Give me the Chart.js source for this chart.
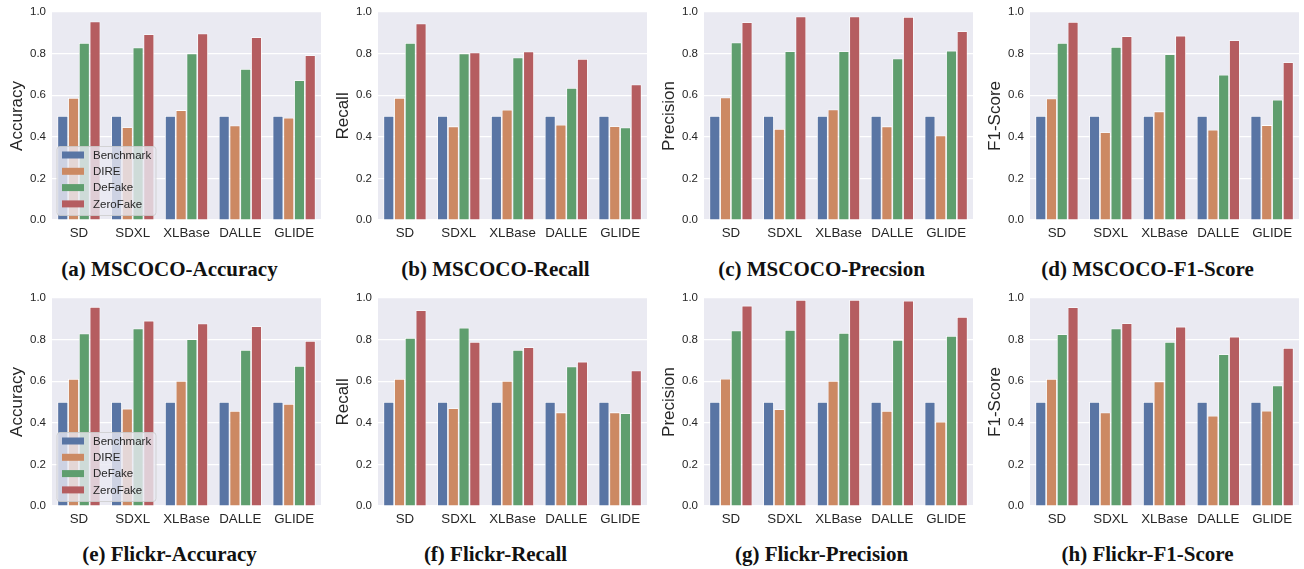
<!DOCTYPE html>
<html>
<head>
<meta charset="utf-8">
<script src="https://cdn.jsdelivr.net/npm/chart.js"></script>
<style>
  body { margin: 0; background: #fff; width: 1304px; height: 569px; overflow: hidden; position: relative; }
  canvas { position: absolute; }
  .caption { position: absolute; font: bold 21px "Liberation Serif", serif; color: #111; white-space: nowrap;
             line-height: 24px; transform: translateX(-50%); }
</style>
</head>
<body>
<script>
// categories and series
const generators = ['SD', 'SDXL', 'XLBase', 'DALLE', 'GLIDE'];
const methods = ['Benchmark', 'DIRE', 'DeFake', 'ZeroFake'];
const yTicks = [0.0, 0.2, 0.4, 0.6, 0.8, 1.0];

const benchmark = [0.5, 0.5, 0.5, 0.5, 0.5];

// MSCOCO
const cocoAccDIRE   = [0.586, 0.446, 0.528, 0.454, 0.491];
const cocoAccDeFake = [0.851, 0.829, 0.800, 0.726, 0.672];
const cocoAccZero   = [0.954, 0.893, 0.896, 0.878, 0.792];

const cocoRecDIRE   = [0.587, 0.450, 0.530, 0.458, 0.451];
const cocoRecDeFake = [0.851, 0.800, 0.781, 0.634, 0.445];
const cocoRecZero   = [0.944, 0.805, 0.810, 0.774, 0.651];

const cocoPreDIRE   = [0.589, 0.438, 0.531, 0.450, 0.406];
const cocoPreDeFake = [0.853, 0.811, 0.811, 0.776, 0.814];
const cocoPreZero   = [0.950, 0.978, 0.978, 0.976, 0.907];

const cocoF1DIRE    = [0.584, 0.422, 0.522, 0.434, 0.456];
const cocoF1DeFake  = [0.851, 0.832, 0.797, 0.698, 0.578];
const cocoF1Zero    = [0.952, 0.883, 0.886, 0.864, 0.758];

// Flickr
const flickrAccDIRE   = [0.611, 0.468, 0.601, 0.457, 0.490];
const flickrAccDeFake = [0.829, 0.853, 0.801, 0.750, 0.673];
const flickrAccZero   = [0.957, 0.891, 0.877, 0.864, 0.793];

const flickrRecDIRE   = [0.611, 0.470, 0.601, 0.450, 0.450];
const flickrRecDeFake = [0.808, 0.857, 0.750, 0.670, 0.446];
const flickrRecZero   = [0.941, 0.788, 0.763, 0.694, 0.651];

const flickrPreDIRE   = [0.612, 0.465, 0.601, 0.457, 0.405];
const flickrPreDeFake = [0.843, 0.846, 0.832, 0.798, 0.817];
const flickrPreZero   = [0.963, 0.990, 0.990, 0.986, 0.909];

const flickrF1DIRE    = [0.611, 0.449, 0.598, 0.434, 0.458];
const flickrF1DeFake  = [0.825, 0.853, 0.788, 0.729, 0.579];
const flickrF1Zero    = [0.955, 0.878, 0.862, 0.814, 0.760];

const colors = ['#5975a4', '#cc8963', '#5f9e6e', '#b55d60'];
const textColor = '#262626';

const panels = [
  { yTitle: 'Accuracy',  caption: '(a) MSCOCO-Accuracy', series: [benchmark, cocoAccDIRE, cocoAccDeFake, cocoAccZero], legend: true },
  { yTitle: 'Recall',    caption: '(b) MSCOCO-Recall',   series: [benchmark, cocoRecDIRE, cocoRecDeFake, cocoRecZero] },
  { yTitle: 'Precision', caption: '(c) MSCOCO-Precsion', series: [benchmark, cocoPreDIRE, cocoPreDeFake, cocoPreZero] },
  { yTitle: 'F1-Score',  caption: '(d) MSCOCO-F1-Score', series: [benchmark, cocoF1DIRE, cocoF1DeFake, cocoF1Zero] },
  { yTitle: 'Accuracy',  caption: '(e) Flickr-Accuracy', series: [benchmark, flickrAccDIRE, flickrAccDeFake, flickrAccZero], legend: true },
  { yTitle: 'Recall',    caption: '(f) Flickr-Recall',   series: [benchmark, flickrRecDIRE, flickrRecDeFake, flickrRecZero] },
  { yTitle: 'Precision', caption: '(g) Flickr-Precision', series: [benchmark, flickrPreDIRE, flickrPreDeFake, flickrPreZero] },
  { yTitle: 'F1-Score',  caption: '(h) Flickr-F1-Score', series: [benchmark, flickrF1DIRE, flickrF1DeFake, flickrF1Zero] },
];

// where each plot area sits on the page
const plotLefts = [52, 378, 704, 1030];
const rowTops = [12.3, 298];
const plotW = 271, plotH = 208.3;
const captionYs = [257, 542];

// grey plot background
const bgPlugin = {
  id: 'plotBg',
  beforeDraw(chart) {
    const a = chart.chartArea, ctx = chart.ctx;
    ctx.save();
    ctx.fillStyle = '#eaeaf2';
    ctx.fillRect(a.left, a.top, a.right - a.left, a.bottom - a.top);
    ctx.restore();
  }
};

// seaborn-like legend box in the lower left corner
const legendPlugin = {
  id: 'boxLegend',
  afterDatasetsDraw(chart, args, opts) {
    if (!opts.show) return;
    const ctx = chart.ctx, a = chart.chartArea;
    const w = 99, h = 69;
    const x = a.left + 5, y = a.bottom - 4.5 - h;
    ctx.save();
    ctx.beginPath();
    ctx.roundRect(x, y, w, h, 3);
    ctx.fillStyle = 'rgba(234,234,242,0.8)';
    ctx.fill();
    ctx.strokeStyle = 'rgba(204,204,204,0.8)';
    ctx.lineWidth = 1;
    ctx.stroke();
    ctx.font = '11.5px "Liberation Sans", Arial, sans-serif';
    ctx.textBaseline = 'middle';
    chart.data.datasets.forEach((ds, i) => {
      const cy = y + 8.5 + i * 16.3;
      ctx.fillStyle = ds.backgroundColor;
      ctx.fillRect(x + 5, cy - 3.5, 22, 7);
      ctx.fillStyle = textColor;
      ctx.fillText(ds.label, x + 36, cy + 0.5);
    });
    ctx.restore();
  }
};

panels.forEach((p, idx) => {
  const col = idx % 4, row = Math.floor(idx / 4);
  let cw = 52 + plotW + 3, ch = 250;

  const canvas = document.createElement('canvas');
  canvas.width = cw; canvas.height = ch;
  canvas.style.width = cw + 'px';
  canvas.style.height = ch + 'px';
  document.body.appendChild(canvas);

  const cap = document.createElement('div');
  cap.className = 'caption';
  cap.textContent = p.caption;
  cap.style.left = (plotLefts[col] + plotW / 2 - 18) + 'px';
  cap.style.top = captionYs[row] + 'px';
  document.body.appendChild(cap);

  const chart = new Chart(canvas.getContext('2d'), {
    type: 'bar',
    data: {
      labels: generators,
      datasets: methods.map((m, i) => ({
        label: m,
        data: p.series[i],
        backgroundColor: colors[i],
        borderColor: '#ffffff',
        borderWidth: 0.8,
        borderSkipped: 'start',
        categoryPercentage: 0.8,
        barPercentage: 1.0
      }))
    },
    options: {
      responsive: false,
      animation: false,
      layout: { padding: { top: 8, right: 3, left: 0, bottom: 0 } },
      plugins: {
        legend: { display: false },
        tooltip: { enabled: false },
        boxLegend: { show: !!p.legend }
      },
      scales: {
        x: {
          grid: { display: false, drawTicks: false },
          border: { display: false },
          ticks: {
            color: textColor,
            padding: 5,
            font: { family: '"Liberation Sans", Arial, sans-serif', size: 13.3 }
          },
          afterFit(s) { s.height = 28; }
        },
        y: {
          min: 0,
          max: 1,
          afterBuildTicks(s) { s.ticks = yTicks.map(v => ({ value: v })); },
          grid: { color: '#ffffff', lineWidth: 1.2, drawTicks: false },
          border: { display: false },
          ticks: {
            color: textColor,
            padding: 6,
            font: { family: '"Liberation Sans", Arial, sans-serif', size: 11.5 },
            callback: v => Number(v).toFixed(1)
          },
          title: {
            display: true,
            text: p.yTitle,
            color: textColor,
            padding: { top: 7, bottom: 0 },
            font: { family: '"Liberation Sans", Arial, sans-serif', size: 17 }
          },
          afterFit(s) { s.width = 52; }
        }
      }
    },
    plugins: [bgPlugin, legendPlugin]
  });

  // size the canvas so the plot area has the reference height, then place it
  let a = chart.chartArea;
  ch = Math.round(ch + plotH - (a.bottom - a.top));
  chart.resize(cw, ch);
  a = chart.chartArea;
  canvas.style.left = (plotLefts[col] - a.left) + 'px';
  canvas.style.top = (rowTops[row] - a.top) + 'px';
});
</script>
</body>
</html>
